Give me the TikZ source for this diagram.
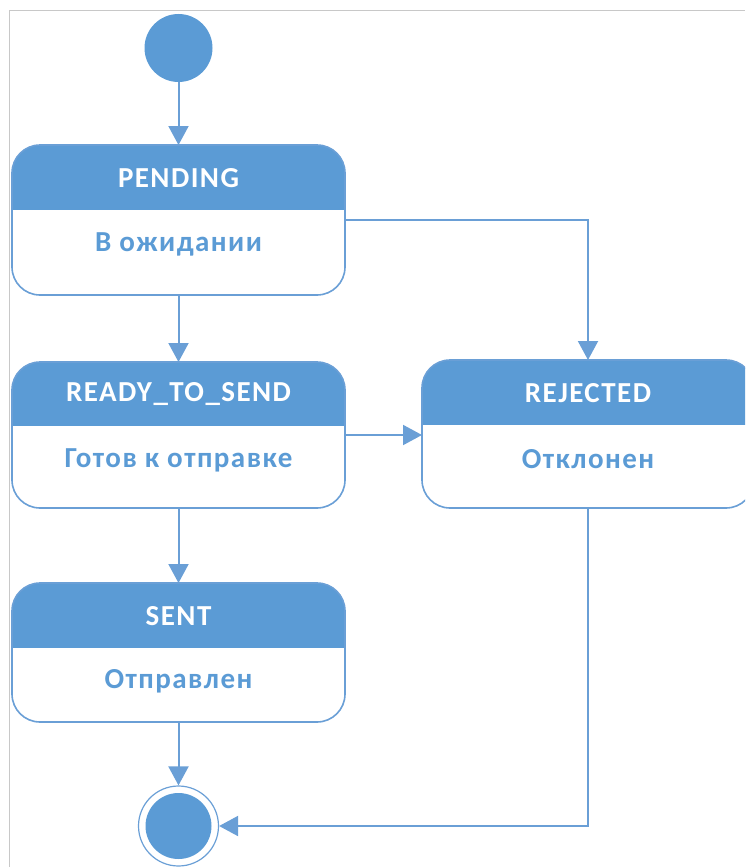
\documentclass[tikz,border=0pt]{standalone}
\usepackage{fontspec}
\setmainfont{Carlito}
\newfontfamily\spacedfont[LetterSpace=5]{Carlito}
\usetikzlibrary{arrows.meta}
\definecolor{ublue}{HTML}{5B9BD5}
\definecolor{uline}{HTML}{6A9FD6}
\definecolor{frame}{HTML}{C8C8C8}
\tikzset{
  x=1pt, y=1pt,
  statebox/.style={draw=uline, line width=1.6pt, rounded corners=28pt, fill=white,
    minimum width=333pt, inner sep=0pt, outer sep=0pt},
  hdr/.style={path picture={\fill[ublue, sharp corners] (path picture bounding box.north west) rectangle ([yshift=-#1]path picture bounding box.north east);}},
  ttl/.style={text=white, font=\spacedfont\fontsize{29}{33}\selectfont\bfseries, inner sep=0pt},
  sub/.style={text=ublue, font=\spacedfont\fontsize{29}{33}\selectfont\bfseries, inner sep=0pt},
  conn/.style={draw=uline, line width=2pt, -{Triangle[length=19pt,width=20pt]}},
}
\begin{document}
\begin{tikzpicture}
\useasboundingbox (0,0) rectangle (745,-867);
\begin{scope}
\clip (0,0) rectangle (745,-867);
\draw[frame, line width=1pt] (9,-867) -- (9,-11) -- (745,-11);
% initial
\node[circle, fill=ublue, minimum size=68pt, inner sep=0pt] (init) at (178.5,-48) {};
% states
\node[statebox, hdr=65pt, minimum height=150pt] (pending) at (178.5,-220) {};
\node[ttl] (pendingT) at ([yshift=-33pt]pending.north) {PENDING};
\node[sub] (pendingS) at ([yshift=-99pt]pending.north) {В ожидании};

\node[statebox, hdr=64pt, minimum height=146pt] (ready) at (178.5,-435) {};
\node[ttl] (readyT) at ([yshift=-32pt]ready.north) {READY\_TO\_SEND};
\node[sub] (readyS) at ([yshift=-98pt]ready.north) {Готов к отправке};

\node[statebox, hdr=65pt, minimum height=148pt, minimum width=332pt] (rejected) at (588,-434) {};
\node[ttl] (rejectedT) at ([yshift=-33pt]rejected.north) {REJECTED};
\node[sub] (rejectedS) at ([yshift=-99pt]rejected.north) {Отклонен};

\node[statebox, hdr=65pt, minimum height=139pt] (sent) at (178.5,-652.5) {};
\node[ttl] (sentT) at ([yshift=-33pt]sent.north) {SENT};
\node[sub] (sentS) at ([yshift=-98pt]sent.north) {Отправлен};
% final
\node[circle, draw=uline, line width=1.2pt, fill=white, minimum size=80pt, inner sep=0pt] (final) at (178.5,-826) {};
\node[circle, fill=ublue, minimum size=66pt, inner sep=0pt] (finalIn) at (final.center) {};
% connectors
\draw[conn] (init) -- (pending);
\draw[conn] (pending) -- (ready);
\draw[conn] (ready) -- (sent);
\draw[conn] (sent) -- (final);
\draw[conn] ([yshift=-75pt]pending.north east) -| (rejected.north);
\draw[conn] ([yshift=-73pt]ready.north east) -- ([yshift=-73pt]ready.north east -| rejected.west);
\draw[conn] (rejected.south) |- (final.east);
\end{scope}
\end{tikzpicture}
\end{document}
